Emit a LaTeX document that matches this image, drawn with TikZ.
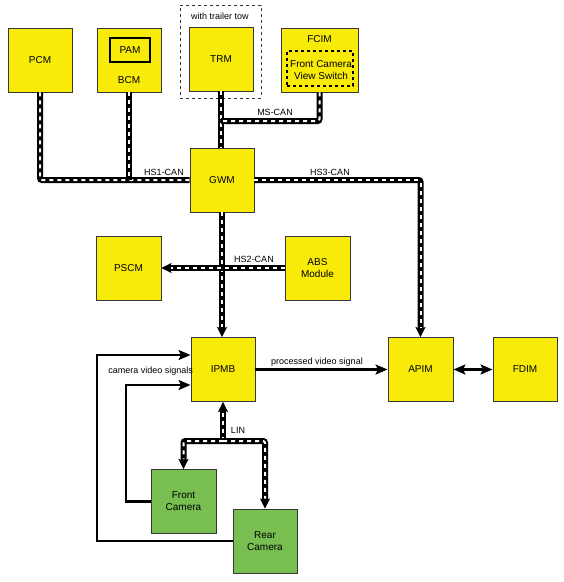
\documentclass[tikz,border=0pt]{standalone}
\usepackage{fontspec}
\setmainfont{Liberation Sans}
\usepackage{tikz}
\usetikzlibrary{arrows.meta, positioning, calc}
\definecolor{EcuYellow}{RGB}{248,235,10}
\definecolor{CamGreen}{RGB}{120,190,80}
\definecolor{EdgeGrey}{RGB}{55,55,55}
\tikzstyle{ecu} = [draw=EdgeGrey, line width=0.9pt, fill=EcuYellow, minimum width=64pt, minimum height=64pt, inner sep=0pt, align=center, font=\fontsize{10}{12}\selectfont]
\tikzstyle{cam} = [ecu, fill=CamGreen]
\tikzstyle{lbl} = [font=\fontsize{9}{11}\selectfont, inner sep=0pt]
\tikzset{
  whitedash/.style={draw=white, line width=2pt, dash pattern=on 4pt off 4pt},
  bus/.style={line width=6pt, rounded corners=2pt, postaction={whitedash, -}},
  busarrow/.style={line width=6pt, rounded corners=2pt, -{Stealth[length=10pt, width=10pt, inset=2pt]}, postaction={whitedash, -, shorten >=10pt}}
}
\tikzstyle{sig} = [line width=2.6pt, -{Stealth[length=12pt, width=10pt, inset=2.5pt]}]

\begin{document}
\begin{tikzpicture}[x=1pt, y=-1pt]
                \useasboundingbox (0,0) rectangle (564,582);

                % top row
                \node[ecu] (pcm) at (40,60) {PCM};
                \node[ecu] (bcm) at (129,60) {};
                \node[draw=black, line width=1.2pt, minimum width=40pt, minimum height=24pt, inner sep=0pt, font=\fontsize{10}{12}\selectfont] (pam) at (130,50) {PAM};
                \node[font=\fontsize{10}{12}\selectfont] (bcmtxt) at (129,80) {BCM};
                \node[draw=EdgeGrey, dashed, line width=0.9pt, minimum width=81pt, minimum height=93pt] (towbox) at (220.5,51.5) {};
                \node[lbl] (towtxt) at (220,16) {with trailer tow};
                \node[ecu] (trm) at (221,59) {TRM};
                \node[ecu, minimum width=77pt] (fcim) at (319.5,60) {};
                \node[font=\fontsize{10}{12}\selectfont] (fcimtxt) at (319.5,39) {FCIM};
                \node[draw=black, dashed, line width=1.1pt, minimum width=66pt, minimum height=35pt, inner sep=0pt] (switch) at (320,68.5) {};
                \node[align=center, inner sep=0pt, font=\fontsize{10}{12.5}\selectfont] (switchtxt) at (321,70) {Front Camera\\View Switch};

                % middle
                \node[ecu] (gwm) at (222,180) {GWM};
                \node[ecu, minimum width=65pt] (pscm) at (128.5,268) {PSCM};
                \node[ecu, minimum width=65pt] (abs) at (317.5,268) {ABS\\Module};
                \node[ecu] (ipmb) at (223,369.5) {IPMB};
                \node[ecu, minimum width=65pt] (apim) at (420.5,369.5) {APIM};
                \node[ecu] (fdim) at (525,369.5) {FDIM};

                % cameras
                \node[cam, minimum width=65pt] (front) at (183.5,501.5) {Front\\Camera};
                \node[cam] (rear) at (265,541) {Rear\\Camera};

                \coordinate (ms) at (221,121);
                \coordinate (lin) at (223,441);
                \coordinate (outer) at (97,355);
                \coordinate (inner) at (126,385);

                % networks
                \draw[bus] (pcm.south) |- (gwm.west);
                \draw[bus] (bcm.south) -- (bcm.south |- gwm.west);
                \draw[bus] (trm.south) -- (trm.south |- gwm.north);
                \draw[bus] (fcim.south) |- (ms);
                \draw[busarrow] (gwm.east) -| (apim.north);
                \draw[busarrow] (gwm.south) -- (gwm.south |- ipmb.north);
                \draw[busarrow] (abs.west) -- (pscm.east);
                \draw[busarrow] (lin) -- (lin |- ipmb.south);
                \draw[busarrow] (lin) -| (front.north);
                \draw[busarrow] (lin) -| (rear.north);

                \node[lbl] (hs1) at (164,172) {HS1-CAN};
                \node[lbl] (hs3) at (330,172) {HS3-CAN};
                \node[lbl] (mscan) at (275,112) {MS-CAN};
                \node[lbl] (hs2) at (254,259) {HS2-CAN};
                \node[lbl] (lintxt) at (238,430) {LIN};

                % video signals
                \draw[sig] (rear.west) -| (outer) -- (ipmb.west |- outer);
                \draw[sig] (front.west) -| (inner) -- (ipmb.west |- inner);
                \node[lbl, anchor=east] (camtxt) at (193,371) {camera video signals};
                \draw[sig] (ipmb.east) -- (apim.west);
                \node[lbl] (proctxt) at (317,362) {processed video signal};
                \draw[sig, {Stealth[length=12pt, width=10pt, inset=2.5pt]}-{Stealth[length=12pt, width=10pt, inset=2.5pt]}] (apim.east) -- (fdim.west);
            \end{tikzpicture}
\end{document}
